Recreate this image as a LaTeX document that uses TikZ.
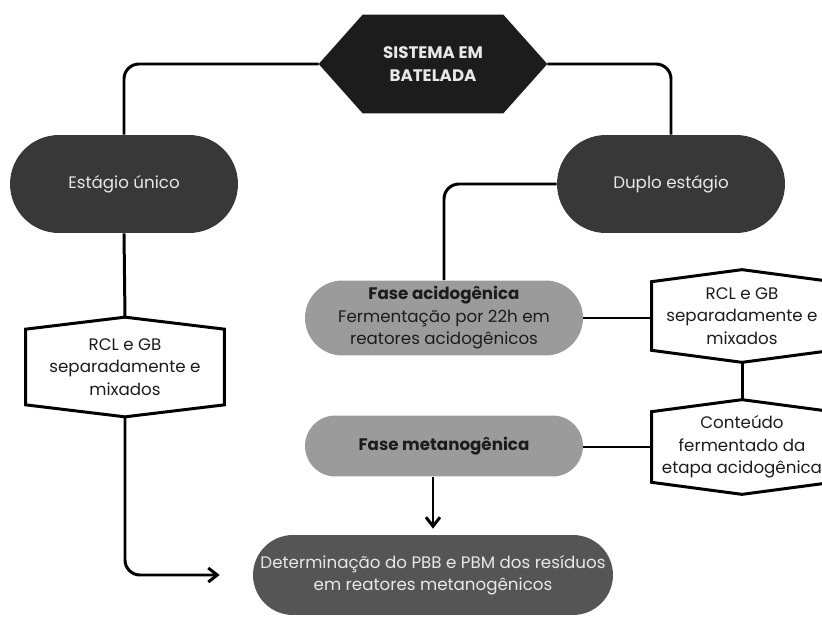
\documentclass[tikz,border=0pt]{standalone}
\usepackage{fontspec}
\setmainfont{Poppins}
\usepackage{xcolor}
\definecolor{inkblack}{RGB}{28, 28, 28}
\definecolor{stagegray}{RGB}{56, 56, 56}
\definecolor{phasegray}{RGB}{155, 155, 155}
\definecolor{resultgray}{RGB}{85, 85, 85}
\definecolor{lighttext}{RGB}{232, 232, 232}
\usepackage{tikz}
\usetikzlibrary{arrows.meta, positioning, calc, backgrounds}

\begin{document}
\begin{tikzpicture}[x=0.02cm, y=-0.02cm, >={Straight Barb[length=1.8mm, width=2.8mm]},
    txt/.style={font=\fontsize{9.5}{12.8}\selectfont, align=center, inner sep=0pt},
    stage/.style={txt, fill=stagegray, text=lighttext, minimum width=4.56cm, minimum height=1.96cm, rounded corners=0.98cm},
    phase/.style={txt, fill=phasegray, text=inkblack, minimum width=5.56cm},
    hexbox/.style={txt, text=inkblack, minimum width=3.6cm},
    conn/.style={line width=1.7pt, rounded corners=0.3cm}]
    \clip (0,0) rectangle (822,622);
    % nodes
    \node[txt, text=lighttext, font=\fontsize{9.5}{12.8}\selectfont\bfseries, minimum width=4.56cm, minimum height=1.96cm] (sist) at (433,64) {SISTEMA EM\\BATELADA};
    \node[stage] (unico) at (124,184) {Estágio único};
    \node[stage] (duplo) at (671,184) {Duplo estágio};
    \node[phase, minimum height=1.5cm, rounded corners=0.75cm] (acid) at (444,318) {{\bfseries Fase acidogênica}\\Fermentação por 22h em\\reatores acidogênicos};
    \node[phase, minimum height=1.22cm, rounded corners=0.61cm] (meta) at (444,446) {\bfseries Fase metanogênica};
    \node[txt, fill=resultgray, text=lighttext, minimum width=7.2cm, minimum height=1.6cm, rounded corners=0.8cm] (det) at (433,575) {Determinação do PBB e PBM dos resíduos\\em reatores metanogênicos};
    \node[hexbox, minimum width=3.96cm, minimum height=1.98cm] (hexL) at (125,367) {RCL e GB\\separadamente e\\mixados};
    \node[hexbox, minimum height=1.84cm] (hexR) at (742,316) {RCL e GB\\separadamente e\\mixados};
    \node[hexbox, minimum height=1.88cm] (cont) at (742,447) {Conteúdo\\fermentado da\\etapa acidogênica};
    % hexagons
    \begin{scope}[on background layer]
        \fill[inkblack] (sist.west) -- ($(sist.north west)+(44,0)$) -- ($(sist.north east)+(-44,0)$) -- (sist.east) -- ($(sist.south east)+(-44,0)$) -- ($(sist.south west)+(44,0)$) -- cycle;
    \end{scope}
    \foreach \h in {hexL, hexR, cont}
        \draw[line width=1.7pt] ($(\h.north west)+(0,12)$) -- (\h.north) -- ($(\h.north east)+(0,12)$) -- ($(\h.south east)+(0,-12)$) -- (\h.south) -- ($(\h.south west)+(0,-12)$) -- cycle;
    % connectors
    \draw[conn] (sist.west) -| (unico.north);
    \draw[conn] (sist.east) -| (duplo.north);
    \draw[conn] (duplo.west) -| (acid.north);
    \draw[conn] (unico.south) -- (hexL.north);
    \draw[conn] (acid.east) -- (acid.east -| hexR.west);
    \draw[conn] (hexR.south) -- (cont.north);
    \draw[conn] (cont.west) -- (cont.west -| meta.east);
    \draw[conn, ->, shorten >=0.12cm] (meta.south -| det.north) -- (det.north);
    \draw[conn, ->, shorten >=0.66cm] (hexL.south) |- (det.west);
\end{tikzpicture}
\end{document}
